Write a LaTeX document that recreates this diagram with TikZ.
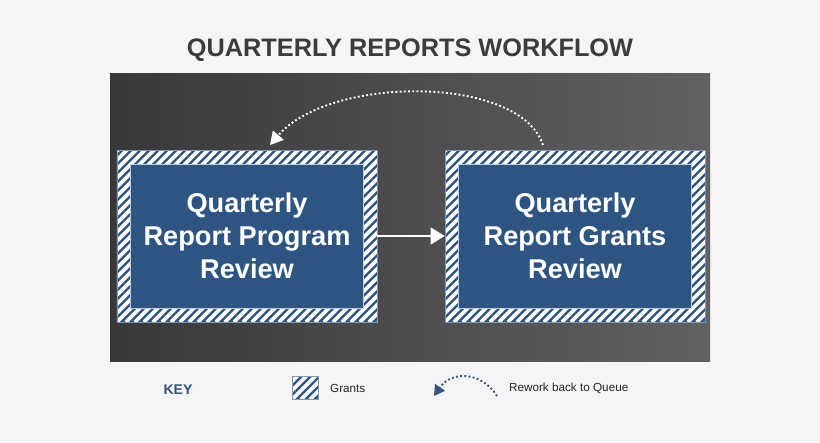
\documentclass[tikz,border=0pt]{standalone}
\usepackage{fontspec}
\setmainfont{Liberation Sans}
\usetikzlibrary{arrows.meta,calc}
\definecolor{pagebg}{RGB}{245,245,245}
\definecolor{boxblue}{RGB}{46,84,130}
\definecolor{titlegray}{RGB}{60,60,60}
\definecolor{keyblue}{RGB}{52,86,126}
\begin{document}
\begin{tikzpicture}[
        x=0.03cm, y=-0.03cm,
        hatched/.style={
            draw=boxblue!60, fill=boxblue,
            minimum width=7.8cm, minimum height=5.16cm,
            path picture={
                \foreach \i in {-40,...,40}
                    \draw[white, line width=0.11cm]
                        ($(path picture bounding box.south west)+(\i*9,0)$) -- ++(200,-200);
            },
        },
        stage/.style={
            draw=white!70!boxblue, fill=boxblue,
            minimum width=6.99cm, minimum height=4.32cm,
            text=white, font=\bfseries\fontsize{23.2}{28}\selectfont,
            align=center,
        },
        keytext/.style={font=\fontsize{10}{12}\selectfont, text=black!85},
    ]

    \useasboundingbox[fill=pagebg] (0,0) rectangle (820,442);
    \shade[left color=black!78, middle color=black!83, right color=black!62]
        (110,73) rectangle (710,361);

    \node[titlegray, font=\bfseries\fontsize{21.6}{24}\selectfont] (title) at (410,50)
        {QUARTERLY REPORTS WORKFLOW};

    \node[hatched] (program) at (247,236) {};
    \node[stage]   (programtext) at (program) {Quarterly\\Report Program\\Review};
    \node[hatched] (grants) at (575,236) {};
    \node[stage]   (grantstext) at (grants) {Quarterly\\Report Grants\\Review};

    \draw[white, line width=2.5pt, -{Triangle[length=12pt,width=14pt]}]
        (program.east) -- (grants.west);

    \coordinate (reworkstart) at (543,145);
    \coordinate (reworkend)   at (270,145);
    \draw[white, line width=1.6pt, dotted, -{Triangle[length=11pt,width=12pt]}]
        (reworkstart) .. controls (520,75) and (330,75) .. (reworkend);

    % key
    \node[keyblue, font=\bfseries\fontsize{12}{14}\selectfont] (key) at (178,390) {KEY};
    \node[hatched, minimum width=0.78cm, minimum height=0.69cm] (keyhatch) at (305,388) {};
    \node[keytext, anchor=west] (keygrants) at (326,388) {Grants};
    \coordinate (keyarcstart) at (497,396);
    \coordinate (keyarcend)   at (434,396);
    \draw[keyblue, line width=1.6pt, dotted, -{Triangle[length=9pt,width=10pt]}]
        (keyarcstart) .. controls (482,372) and (452,370) .. (keyarcend);
    \node[keytext, anchor=west] (keyrework) at (505,388) {Rework back to Queue};

\end{tikzpicture}
\end{document}
